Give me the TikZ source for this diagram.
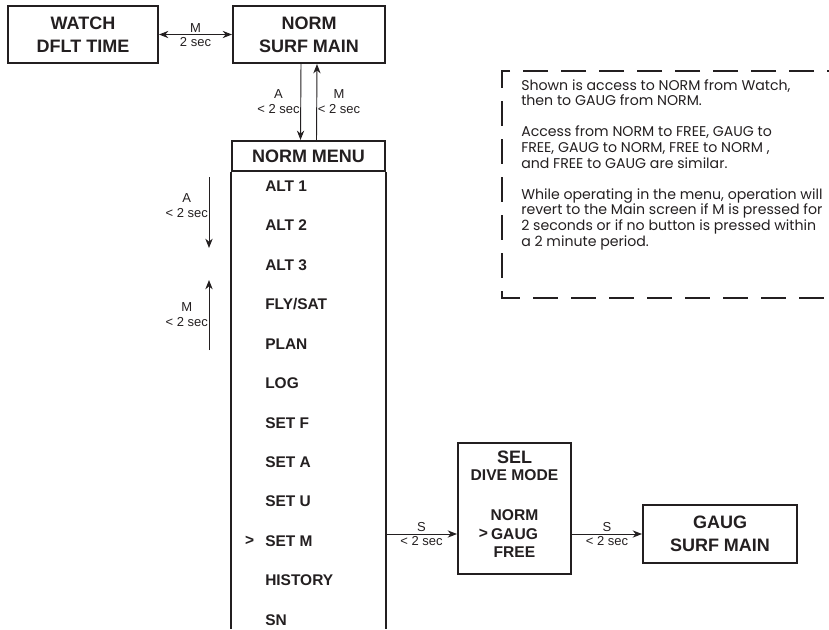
\documentclass[tikz,border=0pt]{standalone}
\usepackage{fontspec}
\setmainfont{Liberation Sans}
\newfontfamily\notefont{Poppins}
\usetikzlibrary{positioning, calc, arrows.meta}
\definecolor{inkGray}{RGB}{35,31,32}
\tikzset{
  screen/.style={           % display screen box
    rectangle, draw=inkGray, line width=1.6pt,
    align=center, inner sep=0pt, text=inkGray,
    font=\fontsize{13.5pt}{17.5pt}\selectfont\bfseries
  },
  %% menu entry (left aligned)
  item/.style={
    anchor=west, inner sep=0pt, text=inkGray,
    font=\fontsize{11.6pt}{13pt}\selectfont\bfseries
  },
  %% text inside the selection box
  seltxt/.style={
    inner sep=0pt, text=inkGray,
    font=\fontsize{11.7pt}{13pt}\selectfont\bfseries
  },
  %% button arrow
  arr/.style={
    -{Stealth[length=7pt,width=5.5pt]},
    line width=0.7pt, color=inkGray
  },
  arrB/.style={
    {Stealth[length=7pt,width=5.5pt]}-{Stealth[length=7pt,width=5.5pt]},
    line width=0.7pt, color=inkGray
  },
  lbl/.style={
    font=\fontsize{9.75pt}{11.2pt}\selectfont, text=inkGray,
    align=center, inner sep=1.5pt
  },
  %% dashed note box
  note/.style={
    font=\notefont\fontsize{10.6pt}{11.7pt}\selectfont, text=inkGray,
    align=left, inner sep=0pt, anchor=west
  }
}

\begin{document}
\begin{tikzpicture}[x=0.75pt, y=-0.75pt]

\useasboundingbox (0,0) rectangle (829,629);

%% ═══════════════════════════════════════════════════════════
%%  TOP ROW  (watch and surface main screens)
%% ═══════════════════════════════════════════════════════════

\node[screen, minimum width=112.5pt, minimum height=42.75pt] (watch) at (83, 34.5) {
  WATCH\\
  DFLT TIME
};

\node[screen, minimum width=114pt, minimum height=42.75pt] (surf) at (309, 34.5) {
  NORM\\
  SURF MAIN
};

\draw[arrB] (watch.east) -- (surf.west)
  node[lbl, midway, above] {M}
  node[lbl, midway, below] {2 sec};

%% ═══════════════════════════════════════════════════════════
%%  NORM MENU  (header box, open list below)
%% ═══════════════════════════════════════════════════════════

\node[screen, minimum width=114.75pt, minimum height=22.5pt] (menuhead) at (308.5, 156) {NORM MENU};

\coordinate (pageEnd) at (0, 629);
\draw[inkGray, line width=1.6pt] (menuhead.south west) -- (menuhead.south west |- pageEnd);
\draw[inkGray, line width=1.6pt] (menuhead.south east) -- (menuhead.south east |- pageEnd);

\draw[arr] ($(surf.south)+(-8,0)$) -- ($(menuhead.north)+(-8,0)$)
  node[lbl, midway, left=-1pt] {A\\< 2 sec};
\draw[arr] ($(menuhead.north)+(8,0)$) -- ($(surf.south)+(8,0)$)
  node[lbl, midway, right=-1pt] {M\\< 2 sec};

\foreach \name [count=\i] in {ALT 1, ALT 2, ALT 3, FLY/SAT, PLAN, LOG,
                              SET F, SET A, SET U, SET M, HISTORY, SN}
  \node[item] (item\i) at (265, {186+39.45*(\i-1)}) {\name};

\node[item, anchor=east, left=8pt of item10] (cursor) {>};

%% scroll arrows beside the list
\coordinate (aTop) at (209, 177);
\coordinate (aBot) at (209, 248);
\coordinate (mBot) at (209, 350);
\coordinate (mTop) at (209, 280);

\draw[arr] (aTop) -- (aBot)
  node[lbl, pos=0.4, left=-1pt] {A\\< 2 sec};
\draw[arr] (mBot) -- (mTop)
  node[lbl, pos=0.5, left=-1pt] {M\\< 2 sec};

%% ═══════════════════════════════════════════════════════════
%%  SELECT DIVE MODE  ->  GAUG SURF MAIN
%% ═══════════════════════════════════════════════════════════

\node[screen, minimum width=84.75pt, minimum height=98.25pt] (selbox) at (514.5, 508.5) {};

\node[seltxt, font=\fontsize{13.5pt}{15pt}\selectfont\bfseries] (selT) at (514.5, 457) {SEL};
\node[seltxt] (selD) at (514.5, 475) {DIVE MODE};
\node[seltxt] (selN) at (514.5, 515) {NORM};
\node[seltxt] (selG) at (514.5, 534) {GAUG};
\node[seltxt] (selF) at (514.5, 552) {FREE};
\node[seltxt, anchor=east, left=2pt of selG] (selC) {>};

\node[screen, minimum width=115.5pt, minimum height=43.5pt] (gaug) at (720, 534) {
  GAUG\\
  SURF MAIN
};

\draw[arr] (gaug.west -| menuhead.east) -- (gaug.west -| selbox.west)
  node[lbl, midway, above] {S}
  node[lbl, midway, below] {< 2 sec};
\draw[arr] (gaug.west -| selbox.east) -- (gaug.west)
  node[lbl, midway, above] {S}
  node[lbl, midway, below] {< 2 sec};

%% ═══════════════════════════════════════════════════════════
%%  NOTE  (dashed frame, open at the right edge)
%% ═══════════════════════════════════════════════════════════

\coordinate (noteTL) at (502, 71);
\coordinate (noteBL) at (502, 298);
\coordinate (pageR)  at (829, 0);

\draw[inkGray, line width=1.8pt, dash pattern=on 18.75pt off 9.75pt, dash phase=17.25pt]
  (noteTL -| pageR) -- (noteTL) -- (noteBL) -- (noteBL -| pageR);

\node[note] (notes) at (521, 164.5) {
  Shown is access to NORM from Watch,\\
  then to GAUG from NORM.\\[11.7pt]
  Access from NORM to FREE, GAUG to\\
  FREE, GAUG to NORM, FREE to NORM ,\\
  and FREE to GAUG are similar.\\[11.7pt]
  While operating in the menu, operation will\\
  revert to the Main screen if M is pressed for\\
  2 seconds or if no button is pressed within\\
  a 2 minute period.
};

\end{tikzpicture}
\end{document}
